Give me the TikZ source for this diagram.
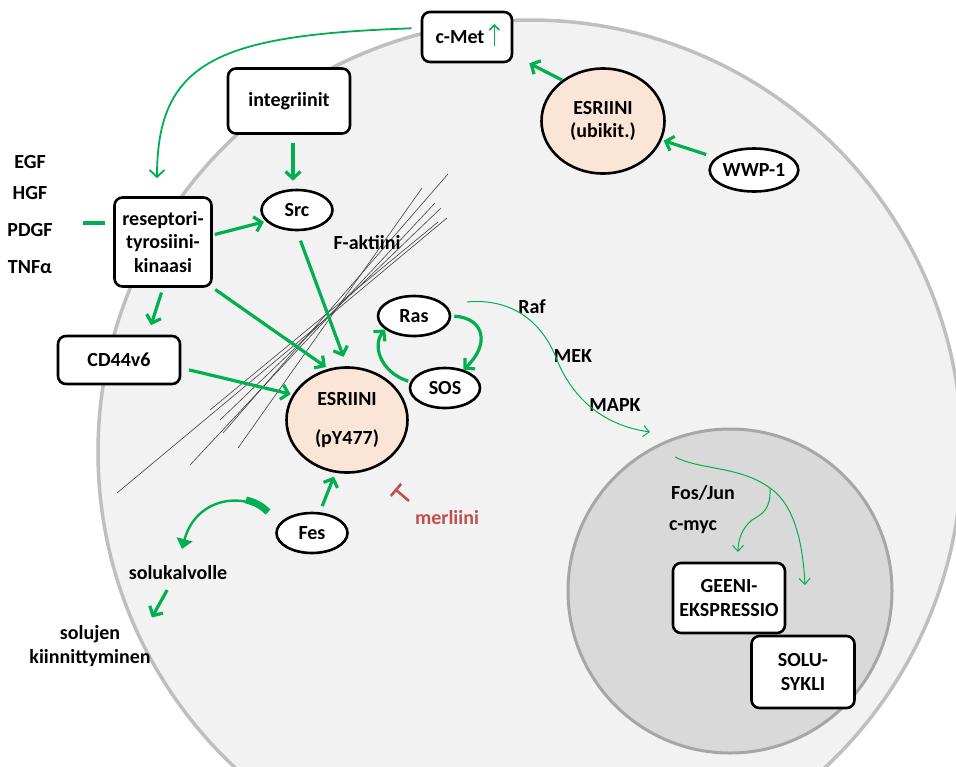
\documentclass[tikz,border=0pt]{standalone}
\usepackage{fontspec}
\setmainfont{Carlito}
\usetikzlibrary{arrows.meta,calc,shapes.geometric}
\definecolor{grn}{RGB}{0,176,80}
\definecolor{cellfill}{RGB}{242,242,242}
\definecolor{cellline}{RGB}{191,191,191}
\definecolor{nucfill}{RGB}{217,217,217}
\definecolor{nucline}{RGB}{166,166,166}
\definecolor{peach}{RGB}{251,229,214}
\definecolor{merlred}{RGB}{192,80,77}
\tikzset{
	box/.style={draw, line width=2.6pt, rounded corners=8pt, fill=white, align=center, inner sep=0pt},
	oval/.style={draw, ellipse, line width=2.6pt, fill=white, align=center, inner sep=0pt},
	lbl/.style={align=center, inner sep=1pt},
	grline/.style={draw=grn, line width=3.2pt},
	grarrow/.style={grline, -{Straight Barb[length=7pt,width=15pt]}},
	thinarrow/.style={draw=grn, line width=1pt, -{Straight Barb[length=6pt,width=11pt]}},
	actin/.style={draw=black!75, line width=0.6pt}
}

\begin{document}
\begin{tikzpicture}[x=1pt,y=-1pt,font=\fontsize{20}{23.5}\selectfont\bfseries]
		%%%%% START %%%%%
		\useasboundingbox (0,0) rectangle (956,766);
		\clip (0,0) rectangle (956,766);
		
		% cell and nucleus
		\draw[fill=cellfill, draw=cellline, line width=3.5pt] (530,452) circle (432);
		\draw[fill=nucfill, draw=nucline, line width=3pt] (730,591) circle (162);
		
		% F-actin bundle
		\draw[actin] (117,493) -- (447,218);
		\draw[actin] (190,465) -- (435,203);
		\draw[actin] (210,410) -- (438,222);
		\draw[actin] (223,433) -- (448,174);
		\draw[actin] (238,448) -- (422,188);
		\draw[actin] (220,420) -- (441,208);
		\node[lbl] (aktiini) at (367,243) {F-aktiini};
		
		% outside signals
		\node[lbl] (egf) at (30,162) {EGF};
		\node[lbl] (hgf) at (30,193) {HGF};
		\node[lbl] (pdgf) at (30,230) {PDGF};
		\node[lbl] (tnf) at (30,267) {TNFα};
		
		% boxes
		\node[box, minimum width=90, minimum height=50] (cmet) at (467,37) {c-Met\hspace{14pt}};
		\node[box, minimum width=122, minimum height=65] (integr) at (289,101) {integriinit};
		\node[box, minimum width=97, minimum height=89] (rtk) at (163,242) {reseptori-\\tyrosiini-\\kinaasi};
		\node[box, minimum width=122, minimum height=48] (cd44) at (119,360) {CD44v6};
		\node[box, minimum width=112, minimum height=70] (geeni) at (729,598) {GEENI-\\EKSPRESSIO};
		\node[box, minimum width=103, minimum height=72] (sykli) at (803,672) {SOLU-\\SYKLI};
		
		% ovals
		\node[oval, fill=peach, minimum width=123, minimum height=105] (esrub) at (603,121) {ESRIINI\\(ubikit.)};
		\node[oval, minimum width=83, minimum height=43] (wwp) at (754,170) {WWP-1};
		\node[oval, minimum width=71, minimum height=40] (src) at (297,210) {Src};
		\node[oval, minimum width=72, minimum height=40] (ras) at (414,316) {Ras};
		\node[oval, minimum width=70, minimum height=40] (sos) at (445,388) {SOS};
		\node[oval, fill=peach, minimum width=121, minimum height=105] (esr) at (347,420) {ESRIINI\\[16pt](pY477)};
		\node[oval, minimum width=71, minimum height=40] (fes) at (312,533) {Fes};
		
		% other labels
		\node[lbl] (raf) at (532,307) {Raf};
		\node[lbl] (mek) at (573,356) {MEK};
		\node[lbl] (mapk) at (615,405) {MAPK};
		\node[lbl] (fosjun) at (703,493) {Fos/Jun};
		\node[lbl] (cmyc) at (693,527) {c-myc};
		\node[lbl, text=merlred] (merl) at (447,518) {merliini};
		\node[lbl] (kalvo) at (178,573) {solukalvolle};
		\node[lbl] (kiinn) at (90,646) {solujen\\kiinnittyminen};
		
		% c-Met up
		\draw[grline, line width=1.6pt, -{Straight Barb[length=5pt,width=10pt]}] ([xshift=-19pt,yshift=-9pt]cmet.east) -- ++(0,-22);
		
		% arrows
		\draw[grarrow, line width=1.8pt, shorten <=9pt, shorten >=18pt] ([yshift=9pt]cmet.west) .. controls (220,35) and (157,60) .. ([xshift=-6pt]rtk.north);
		\draw[grarrow, shorten <=10pt, shorten >=2pt] (wwp) -- (esrub);
		\draw[grarrow] (esrub.135) -- ([xshift=16pt]cmet.south east);
		\draw[grarrow, shorten <=8pt, shorten >=8pt] ([xshift=4pt]integr.south) -- ([xshift=-4pt]src.north);
		\draw[grline] ([xshift=29pt,yshift=7pt]pdgf.east) -- ([xshift=-8pt,yshift=7pt]pdgf.east -| rtk.west);
		\draw[grarrow, shorten <=2pt, shorten >=2pt] ([yshift=7pt]rtk.east) -- (src.200);
		\draw[grarrow, shorten <=10pt, shorten >=10pt] (src.south) -- (esr.north);
		\draw[grarrow, shorten <=3pt, shorten >=3pt] (rtk.south east) -- (esr.110);
		\draw[grarrow, shorten <=5pt, shorten >=10pt] (rtk.south) -- ([xshift=29pt]cd44.north);
		\draw[grarrow, shorten <=8pt, shorten >=2pt] ([yshift=-8pt]cd44.east) -- (esr.155);
		\draw[grarrow, shorten <=6pt, shorten >=3pt] ([xshift=8pt]fes.north) -- ([xshift=-12pt]esr.south);
		\draw[grarrow, shorten <=3pt] (ras.east) .. controls (485,318) and (490,345) .. (sos.45);
		\draw[grarrow, shorten <=2pt] (sos.170) .. controls (380,372) and (372,345) .. (ras.205);
		\draw[grarrow, shorten <=10pt, shorten >=8pt] ([xshift=-6pt]kalvo.south) -- ([xshift=58pt]kiinn.north);
		
		% Fes to membrane
		\coordinate (fesout) at (268,512);
		\draw[grarrow, line width=2.4pt, -{Triangle[length=10pt,width=16pt]}] (fesout) .. controls (240,490) and (195,500) .. (182,549);
		\draw[draw=grn, line width=7pt] (fesout) .. controls (262,506) and (255,502) .. (246,500);
		
		% merlin inhibition
		\coordinate (merlstem) at (409,501);
		\draw[draw=merlred, line width=2.6pt, -{Bar[width=16pt]}] (merlstem) -- (395,489);
		
		% MAPK cascade
		\coordinate (raspath) at (467,302);
		\draw[thinarrow] (raspath) .. controls (510,298) and (540,320) .. (555,355) .. controls (570,395) and (600,425) .. (650,432);
		\coordinate (nucin) at (675,457);
		\coordinate (split) at (770,488);
		\draw[thinarrow] (nucin) .. controls (700,470) and (740,466) .. (split) .. controls (795,505) and (803,545) .. (805,585);
		\draw[thinarrow] (split) .. controls (771,510) and (762,514) .. (752,520) .. controls (742,528) and (738,540) .. (738,552);
		
		%%%%% END %%%%%
	\end{tikzpicture}
\end{document}
